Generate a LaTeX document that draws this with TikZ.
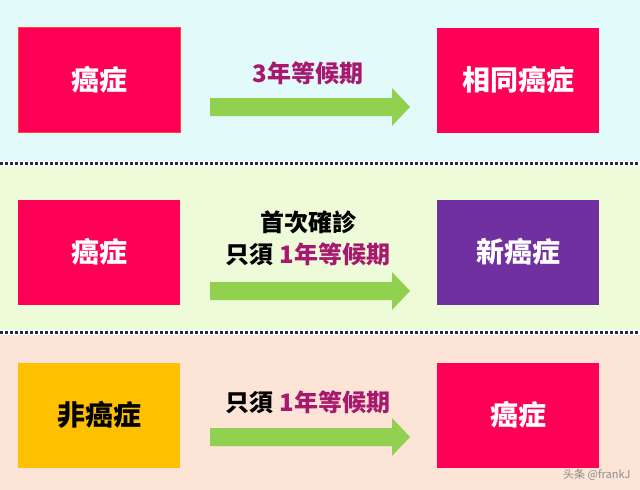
\documentclass[tikz,border=0pt]{standalone}
\usepackage{fontspec}
\setmainfont{Noto Sans CJK TC}
\definecolor{pinkb}{HTML}{FF0057}
\definecolor{purpb}{HTML}{7030A0}
\definecolor{yelb}{HTML}{FFC000}
\definecolor{bgA}{HTML}{E2FAFA}
\definecolor{bgB}{HTML}{EDFBD8}
\definecolor{bgC}{HTML}{FCE4D6}
\definecolor{arr}{HTML}{92D050}
\definecolor{mag}{HTML}{A8186E}
\definecolor{dots}{HTML}{1F2A44}
\tikzset{
 box/.style={minimum width=162pt,minimum height=105pt,inner sep=0pt,text=white,font=\fontsize{28}{32}\selectfont\bfseries},
 lbl/.style={font=\fontsize{24}{32}\selectfont\bfseries,align=center},
 sep/.style={draw=dots,line width=3pt,dash pattern=on 2.5pt off 2.5pt}
}
\newcommand\greenarrow[2]{% x-left, y-center
 \fill[arr] (#1,#2-9) -- (#1+182,#2-9) -- (#1+182,#2-19) -- (#1+200,#2) -- (#1+182,#2+19) -- (#1+182,#2+9) -- (#1,#2+9) -- cycle;}
\begin{document}
\begin{tikzpicture}[x=1pt,y=-1pt]
\useasboundingbox (0,0) rectangle (640,490);
\fill[bgA] (0,0) rectangle (640,161);
\fill[bgB] (0,166) rectangle (640,330);
\fill[bgC] (0,335) rectangle (640,490);
\draw[sep] (0,163.5) -- (640,163.5);
\draw[sep] (0,332.5) -- (640,332.5);
% row 1
\node[box,fill=pinkb,draw=orange!60!pinkb,line width=0.6pt] (a1) at (99,80) {癌症};
\node[box,fill=pinkb] (b1) at (518,80) {相同癌症};
\greenarrow{210}{107}
\node[lbl,text=mag] (t1) at (308,73) {3年等候期};
% row 2
\node[box,fill=pinkb] (a2) at (99,252) {癌症};
\node[box,fill=purpb] (b2) at (518,252) {新癌症};
\greenarrow{210}{291}
\node[lbl] (t2) at (308,238) {首次確診\\只須 \textcolor{mag}{1年等候期}};
% row 3
\node[box,fill=yelb,text=black] (a3) at (99,415) {非癌症};
\node[box,fill=pinkb] (b3) at (518,415) {癌症};
\greenarrow{210}{437}
\node[lbl] (t3) at (308,402) {只須 \textcolor{mag}{1年等候期}};
\node[text=black!45,font=\fontsize{11}{13}\selectfont,anchor=east] (wm) at (634,475) {头条 @frankJ};
\end{tikzpicture}
\end{document}
